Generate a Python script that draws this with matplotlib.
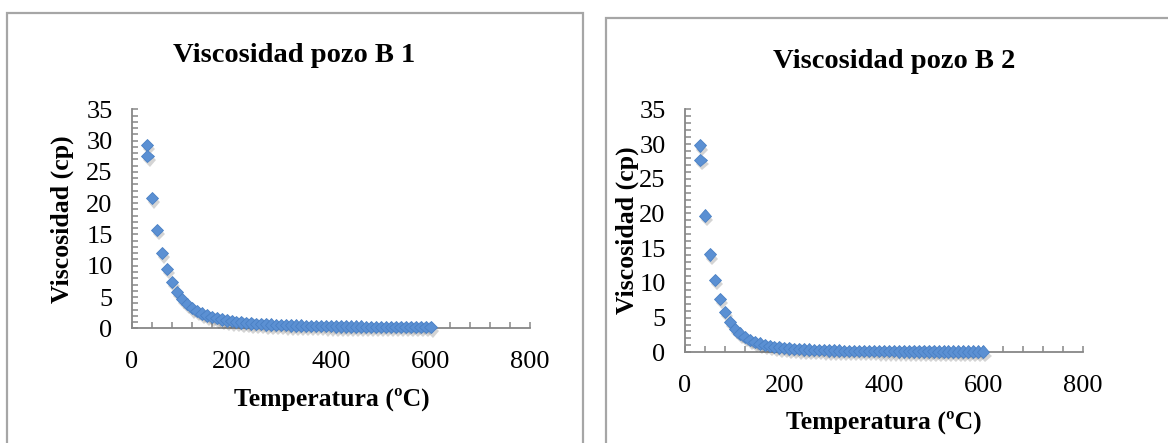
import matplotlib.pyplot as plt
import matplotlib.patheffects as pe
from matplotlib.patches import Rectangle
import numpy as np

# temperatura (ºC), same grid for both wells
temp = [30, 31, 40, 50, 60, 70, 80, 90, 100, 110, 120, 130, 140, 150, 160, 170, 180, 190,
        200, 210, 220, 230, 240, 250, 260, 270, 280, 290, 300, 310, 320, 330, 340, 350,
        360, 370, 380, 390, 400, 410, 420, 430, 440, 450, 460, 470, 480, 490, 500, 510,
        520, 530, 540, 550, 560, 570, 580, 590, 600]

# viscosidad (cp) pozo B 1
visc_b1 = [29.3, 27.5, 20.8, 15.7, 12.0, 9.5, 7.4, 5.8, 4.7, 3.9, 3.2, 2.75, 2.35, 2.05, 1.8,
           1.6, 1.42, 1.27, 1.14, 1.03, 0.94, 0.86, 0.79, 0.73, 0.68, 0.63, 0.59, 0.55, 0.52,
           0.49, 0.46, 0.44, 0.42, 0.40, 0.38, 0.36, 0.35, 0.33, 0.32, 0.31, 0.30, 0.29, 0.28,
           0.27, 0.26, 0.25, 0.25, 0.24, 0.23, 0.23, 0.22, 0.22, 0.21, 0.21, 0.20, 0.20, 0.19,
           0.19, 0.18]

# viscosidad (cp) pozo B 2
visc_b2 = [29.8, 27.7, 19.7, 14.1, 10.4, 7.7, 5.8, 4.4, 3.4, 2.7, 2.2, 1.8, 1.5, 1.25, 1.05,
           0.9, 0.8, 0.7, 0.62, 0.55, 0.5, 0.45, 0.41, 0.38, 0.35, 0.32, 0.30, 0.28, 0.26,
           0.25, 0.23, 0.22, 0.21, 0.20, 0.19, 0.18, 0.17, 0.16, 0.16, 0.15, 0.15, 0.14, 0.14,
           0.13, 0.13, 0.13, 0.12, 0.12, 0.12, 0.11, 0.11, 0.11, 0.11, 0.10, 0.10, 0.10, 0.10,
           0.10, 0.10]

W, H = 1168, 443
plt.rcParams['font.family'] = 'Liberation Serif'
fig = plt.figure(figsize=(W / 100, H / 100), dpi=100)

gray = '#878787'
blue = '#5b90d3'


def fx(px):
    return px / W


def fy(py):
    return 1 - py / H


# chart frames (like excel chart boxes)
fig.add_artist(Rectangle((fx(6.5), fy(460)), fx(583) - fx(6.5), fy(13.5) - fy(460),
                         fill=False, edgecolor='#a6a6a6', linewidth=1.6))
fig.add_artist(Rectangle((fx(605.5), fy(460)), fx(1200) - fx(605.5), fy(18) - fy(460),
                         fill=False, edgecolor='#a6a6a6', linewidth=1.6))

charts = [
    # axes box in px, data, title, title centre, ylabel centre, xlabel centre
    ((132, 530, 109.3, 328.3), visc_b1, "Viscosidad pozo B 1", (294.5, 56), (62, 219), (331.5, 399)),
    ((685, 1082.7, 109.3, 352.3), visc_b2, "Viscosidad pozo B 2", (894, 62), (627, 230), (884, 422)),
]

for (x0, x1, top, bot), visc, title, tpos, ypos, xpos in charts:
    ax = fig.add_axes([fx(x0), fy(bot), fx(x1) - fx(x0), fy(top) - fy(bot)])
    ax.plot(temp, visc, linestyle='none', marker='D', markersize=6.3,
            markerfacecolor=blue, markeredgecolor='#4a80c4', markeredgewidth=0.6,
            clip_on=False, zorder=3,
            path_effects=[pe.SimplePatchShadow(offset=(1.5, -3), shadow_rgbFace='#555555', alpha=0.25),
                          pe.Normal()])
    ax.set_xlim(0, 800)
    ax.set_ylim(0, 35)
    ax.set_xticks(np.arange(0, 801, 200))
    ax.set_xticks(np.arange(0, 801, 40), minor=True)
    ax.set_yticks(np.arange(0, 36, 5))
    ax.set_yticks(np.arange(0, 36, 1), minor=True)
    for s in ['top', 'right']:
        ax.spines[s].set_visible(False)
    for s in ['left', 'bottom']:
        ax.spines[s].set_color(gray)
        ax.spines[s].set_linewidth(1.3)
    ax.tick_params(which='both', direction='in', color=gray, width=1.1, length=4)
    ax.tick_params(axis='x', which='major', pad=16, labelsize=19)
    ax.tick_params(axis='y', which='major', pad=14, labelsize=19)
    ax.patch.set_alpha(0)

    fig.text(fx(tpos[0]), fy(tpos[1]), title, ha='center', va='center',
             fontsize=20.5, fontweight='bold')
    fig.text(fx(ypos[0]), fy(ypos[1]), "Viscosidad (cp)", ha='center', va='center',
             rotation=90, fontsize=18.5, fontweight='bold')
    fig.text(fx(xpos[0]), fy(xpos[1]), "Temperatura (ºC)", ha='center', va='center',
             fontsize=18.5, fontweight='bold')

plt.savefig("out.png", dpi=100)
